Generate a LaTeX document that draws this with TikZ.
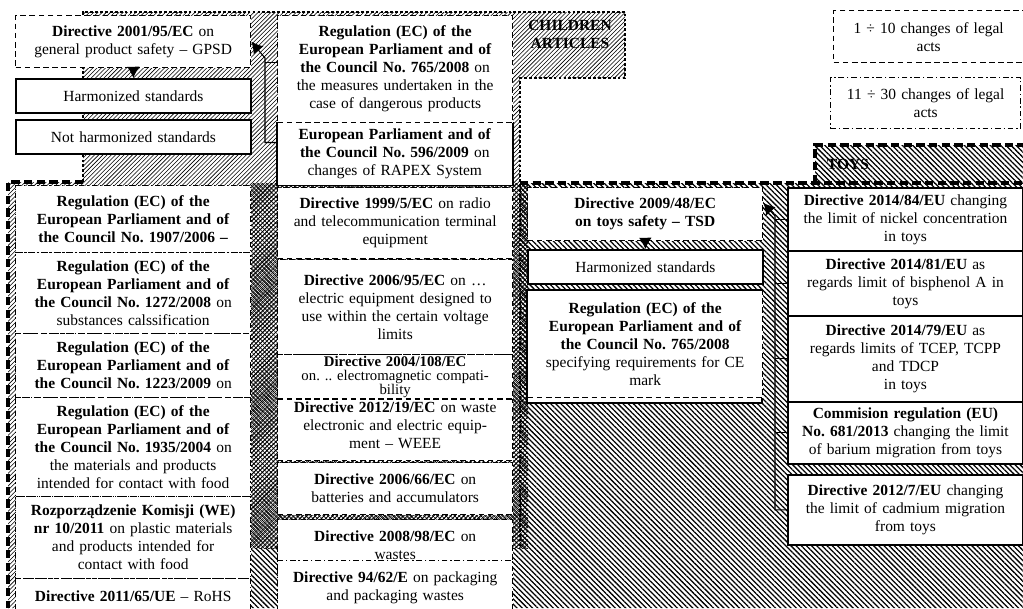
\documentclass[tikz,border=0pt]{standalone}
\usepackage{fontspec}
\setmainfont{Liberation Serif}
\usetikzlibrary{patterns,patterns.meta,arrows.meta}
\frenchspacing

\tikzset{
  act/.style={fill=white, align=center, anchor=north west, inner sep=1pt,
    font=\fontsize{11}{12.8}\selectfont, text width=5.75cm, minimum width=5.875cm},
  tall/.style={minimum height=#1*0.025cm},
  fewacts/.style={act, draw, line width=0.9pt, dash pattern=on 4pt off 2.5pt},
  manyacts/.style={act, draw, line width=0.9pt, dash pattern=on 4pt off 2pt on 1pt off 2pt},
  firmact/.style={act, draw, line width=1.3pt},
  legend/.style={text width=4.6cm, minimum width=4.75cm},
  kidsline/.style={line width=2pt, dash pattern=on 2pt off 1.5pt},
  toyline/.style={line width=2.4pt, dash pattern=on 6pt off 3pt},
  toyhatch/.style={pattern={Lines[angle=-45,distance=2.6pt,line width=0.9pt]}},
}

\begin{document}
\begin{tikzpicture}[x=0.025cm, y=-0.025cm, >={Latex[length=8pt,width=9pt]}]
\useasboundingbox (0,0) rectangle (1023,608);
\fill[white] (0,0) rectangle (1023,608);
% groups of articles
\fill[pattern=north east lines] (83,12) -- (625,12) -- (625,78) -- (520,78) -- (520,548) -- (250,548) -- (250,608) -- (8,608) -- (8,182) -- (83,182) -- cycle;
\fill[pattern={Hatch[angle=45,distance=2.2pt,line width=0.45pt]}] (250,183) rectangle (528,548);
\fill[toyhatch] (520,183) -- (1023,183) -- (1023,608) -- (250,608) -- (250,548) -- (520,548) -- cycle;
\fill[toyhatch] (815,145) rectangle (1023,183);
\draw[kidsline] (83,182) -- (83,12) -- (625,12) -- (625,78) -- (520,78) -- (520,548);
\draw[toyline] (83,182) -- (8,182) -- (8,608);
\draw[toyline] (520,183) -- (1023,183);
\draw[toyline] (815,183) -- (815,145) -- (1023,145);
\node[font=\fontsize{11}{12.8}\selectfont\bfseries, align=center] (kids) at (570,34) {CHILDREN\\ARTICLES};
\node[font=\fontsize{11}{12.8}\selectfont\bfseries] (toys) at (848,164) {TOYS};

% legend
\node[fewacts, legend, tall=52] (leg1) at (833,10) {1 ÷ 10 changes of legal\\acts};
\node[manyacts, legend, tall=51] (leg2) at (830,77) {11 ÷ 30 changes of legal\\acts};

% general safety
\node[fewacts, tall=52] (gpsd) at (15,15) {\textbf{Directive 2001/95/EC} on\\general product safety – GPSD};
\node[firmact, tall=34] (harm1) at (15,78) {Harmonized standards};
\node[firmact, tall=34] (notharm) at (15,119) {Not harmonized standards};
\node[act, tall=63] (rapex) at (277,122) {\textbf{European Parliament and of}\\\textbf{the Council No. 596/2009} on\\changes of RAPEX System};
\draw[line width=1.3pt] (rapex.north west) |- (rapex.south east) -- (rapex.north east);
\node[fewacts, tall=107] (reg765) at (277,15) {\textbf{Regulation (EC) of the}\\\textbf{European Parliament and of}\\\textbf{the Council No. 765/2008} on\\the measures undertaken in the\\case of dangerous products};

% chemicals
\node[manyacts, tall=67] (reach) at (15,185) {\textbf{Regulation (EC) of the}\\\textbf{European Parliament and of}\\\textbf{the Council No. 1907/2006 –}};
\node[manyacts, tall=81] (clp) at (15,252) {\textbf{Regulation (EC) of the}\\\textbf{European Parliament and of}\\\textbf{the Council No. 1272/2008} on\\substances calssification};
\node[fewacts, tall=64] (cosm) at (15,333) {\textbf{Regulation (EC) of the}\\\textbf{European Parliament and of}\\\textbf{the Council No. 1223/2009} on};
\node[manyacts, tall=99] (food) at (15,397) {\textbf{Regulation (EC) of the}\\\textbf{European Parliament and of}\\\textbf{the Council No. 1935/2004} on\\the materials and products\\intended for contact with food};
\node[manyacts, tall=82] (plastic) at (15,496) {\textbf{Rozporządzenie Komisji (WE)}\\\textbf{nr 10/2011} on plastic materials\\and products intended for\\contact with food};
\node[manyacts, tall=36] (rohs) at (15,578) {\textbf{Directive 2011/65/UE} – RoHS};

% electric equipment
\node[fewacts, tall=71] (rtte) at (277,187) {\textbf{Directive 1999/5/EC} on radio\\and telecommunication terminal\\equipment};
\node[fewacts, tall=95] (lvd) at (277,259) {\textbf{Directive 2006/95/EC} on …\\electric equipment designed to\\use within the certain voltage\\limits};
\node[fewacts, tall=70] (weee) at (277,390) {\textbf{Directive 2012/19/EC} on waste\\electronic and electric equip-\\ment – WEEE};
\node[fewacts, tall=36, font=\fontsize{10.5}{10}\selectfont] (emc) at (277,354) {\textbf{Directive 2004/108/EC}\\on. .. electromagnetic compati-\\bility};
\node[fewacts, tall=52] (batt) at (277,462) {\textbf{Directive 2006/66/EC} on\\batteries and accumulators};
\node[fewacts, tall=52] (waste) at (277,519) {\textbf{Directive 2008/98/EC} on\\wastes};
\node[manyacts, tall=54] (pack) at (277,560) {\textbf{Directive 94/62/E} on packaging\\and packaging wastes};

% toys
\node[fewacts, tall=53] (tsd) at (527,187) {\textbf{Directive 2009/48/EC}\\\textbf{on toys safety – TSD}};
\node[firmact, tall=34] (harm2) at (527,249) {Harmonized standards};
\draw[fill=white, line width=1.3pt] (527,290) rectangle (762,403);
\node[fewacts, tall=107] (ce) at (527,290) {\textbf{Regulation (EC) of the}\\\textbf{European Parliament and of}\\\textbf{the Council No. 765/2008}\\specifying requirements for CE\\mark};
\node[firmact, tall=63] (nickel) at (787,187) {\textbf{Directive 2014/84/EU} changing\\the limit of nickel concentration\\in toys};
\node[firmact, tall=65] (bpa) at (787,250) {\textbf{Directive 2014/81/EU} as\\regards limit of bisphenol A in\\toys};
\node[firmact, tall=86] (tcep) at (787,315) {\textbf{Directive 2014/79/EU} as\\regards limits of TCEP, TCPP\\and TDCP\\in toys};
\node[firmact, tall=62] (barium) at (787,401) {\textbf{Commision regulation (EU)}\\\textbf{No. 681/2013} changing the limit\\of barium migration from toys};
\node[firmact, tall=70] (cadmium) at (787,474) {\textbf{Directive 2012/7/EU} changing\\the limit of cadmium migration\\from toys};

% links
\coordinate (bend) at (265,58);
\coordinate (trunk) at (775,216);
\draw[thick,->] (gpsd) -- (harm1);
\draw[thick,->] (tsd) -- (harm2);
\draw[thick,->] ([yshift=8pt]rapex.west) -| (bend) -- (gpsd.east);
\draw[thick] ([yshift=5pt]reg765.west) -- ([yshift=5pt]reg765.west -| bend);
\draw[thick,->] (cadmium.west) -| (trunk) -- ([yshift=8pt]tsd.east);
\foreach \n in {nickel,bpa,tcep,barium}
  \draw[thick] (\n.west) -- (\n.west -| trunk);
\end{tikzpicture}
\end{document}
